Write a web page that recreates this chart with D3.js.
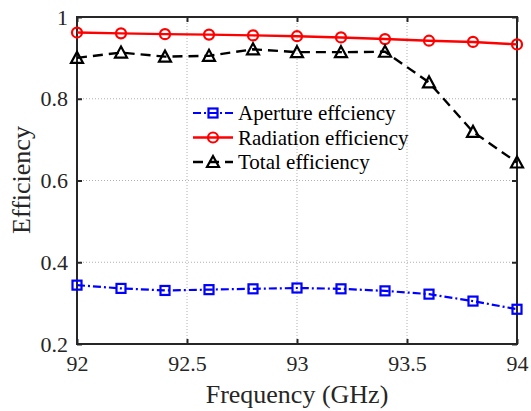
<!DOCTYPE html>
<html><head><meta charset="utf-8">
<script src="https://cdn.jsdelivr.net/npm/d3@7"></script>
<style>body{margin:0;background:#fff}svg{display:block}</style>
</head><body>
<svg id="c" width="531" height="411"></svg>
<script>
const freq = [92, 92.2, 92.4, 92.6, 92.8, 93, 93.2, 93.4, 93.6, 93.8, 94];
const aperture = [0.344, 0.336, 0.331, 0.333, 0.335, 0.337, 0.335, 0.330, 0.322, 0.305, 0.285];
const radiation = [0.962, 0.960, 0.958, 0.957, 0.955, 0.953, 0.950, 0.946, 0.942, 0.939, 0.933];
const total = [0.900, 0.913, 0.903, 0.905, 0.921, 0.914, 0.914, 0.915, 0.840, 0.719, 0.644];
const xTicks = [92, 92.5, 93, 93.5, 94];
const yTicks = [0.2, 0.4, 0.6, 0.8, 1];
const seriesNames = ["Aperture effciency", "Radiation efficiency", "Total efficiency"];

const svg = d3.select("#c");
const L = 77, R = 517, T = 17, B = 344;
const x = d3.scaleLinear().domain([92, 94]).range([L, R]);
const y = d3.scaleLinear().domain([0.2, 1]).range([B, T]);
const axisColor = "#262626";
const font = "'Liberation Serif', 'Times New Roman', serif";

// grid
const g = svg.append("g");
g.selectAll(".gx").data(xTicks.slice(1, -1)).enter().append("line")
  .attr("x1", d => x(d)).attr("x2", d => x(d)).attr("y1", T).attr("y2", B)
  .attr("stroke", "#b0b0b0").attr("stroke-width", 1).attr("stroke-dasharray", "1,2");
g.selectAll(".gy").data(yTicks.slice(1, -1)).enter().append("line")
  .attr("y1", d => y(d)).attr("y2", d => y(d)).attr("x1", L).attr("x2", R)
  .attr("stroke", "#b0b0b0").attr("stroke-width", 1).attr("stroke-dasharray", "1,2");

// axes
const xa = d3.axisBottom(x).tickValues(xTicks).tickSize(-5).tickPadding(11).tickFormat(d3.format("~g"));
const ya = d3.axisLeft(y).tickValues(yTicks).tickSize(-5).tickPadding(9).tickFormat(d3.format("~g"));
const xt = d3.axisTop(x).tickValues(xTicks).tickSize(-5).tickFormat("");
const yr = d3.axisRight(y).tickValues(yTicks).tickSize(-5).tickFormat("");
function style(sel) {
  sel.attr("font-family", font).attr("font-size", 22);
  sel.selectAll("line").attr("stroke", axisColor).attr("stroke-width", 2);
  sel.selectAll("text").attr("fill", axisColor);
}
svg.append("g").attr("transform", `translate(0,${B})`).call(xa).call(style);
svg.append("g").attr("transform", `translate(${L},0)`).call(ya).call(style);
svg.append("g").attr("transform", `translate(0,${T})`).call(xt).call(style);
svg.append("g").attr("transform", `translate(${R},0)`).call(yr).call(style);
svg.selectAll(".domain").remove();
svg.append("rect").attr("x", L).attr("y", T).attr("width", R - L).attr("height", B - T)
  .attr("fill", "none").attr("stroke", axisColor).attr("stroke-width", 2);

// titles
svg.append("text").attr("x", (L + R) / 2).attr("y", 403).attr("text-anchor", "middle")
  .attr("font-family", font).attr("font-size", 26).attr("fill", axisColor).text("Frequency (GHz)");
svg.append("text").attr("transform", "translate(30,180) rotate(-90)").attr("text-anchor", "middle")
  .attr("font-family", font).attr("font-size", 26).attr("fill", axisColor).text("Efficiency");

// series
const line = d3.line().x(d => x(d[0])).y(d => y(d[1]));
const specs = [
  {vals: aperture, color: "#0000ff", dash: "8,3,2,3", marker: "square", w: 2.2},
  {vals: radiation, color: "#ff0000", dash: null, marker: "circle", w: 2.4},
  {vals: total, color: "#000000", dash: "10,6", marker: "triangle", w: 2.4}
];
function drawMarker(sel, type, color) {
  if (type === "square") {
    sel.append("rect").attr("x", -4.5).attr("y", -4.5).attr("width", 9).attr("height", 9)
      .attr("fill", "none").attr("stroke", color).attr("stroke-width", 2.2);
  } else if (type === "circle") {
    sel.append("circle").attr("r", 5).attr("fill", "none").attr("stroke", color).attr("stroke-width", 2.2);
  } else {
    sel.append("path").attr("d", "M0,-6L6,5L-6,5Z").attr("fill", "none")
      .attr("stroke", color).attr("stroke-width", 2.2).attr("stroke-linejoin", "miter");
  }
}
specs.forEach(s => {
  const pts = freq.map((f, i) => [f, s.vals[i]]);
  svg.append("path").datum(pts).attr("d", line).attr("fill", "none")
    .attr("stroke", s.color).attr("stroke-width", s.w)
    .attr("stroke-dasharray", s.dash);
  pts.forEach(p => {
    const m = svg.append("g").attr("transform", `translate(${x(p[0])},${y(p[1])})`);
    drawMarker(m, s.marker, s.color);
  });
});

// legend
const legY = [113, 137.5, 162];
specs.forEach((s, i) => {
  const gy = legY[i];
  svg.append("line").attr("x1", 193).attr("x2", 233).attr("y1", gy).attr("y2", gy)
    .attr("stroke", s.color).attr("stroke-width", s.w).attr("stroke-dasharray", s.dash);
  const m = svg.append("g").attr("transform", `translate(213,${gy})`);
  drawMarker(m, s.marker, s.color);
  svg.append("text").attr("x", 238).attr("y", gy + 7).attr("font-family", font)
    .attr("font-size", 21).attr("fill", "#000").text(seriesNames[i]);
});
</script>
</body></html>
